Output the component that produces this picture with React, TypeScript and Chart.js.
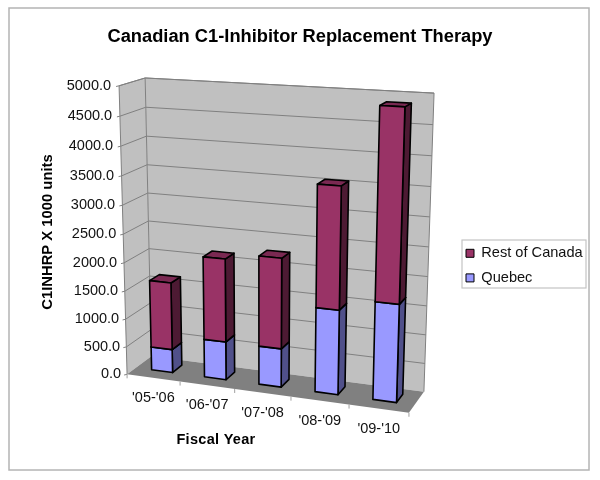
import React, { useEffect, useRef } from "react";
import { Chart, registerables } from "chart.js";

Chart.register(...registerables);

const titleText = "Canadian C1-Inhibitor Replacement Therapy";
const xTitle = "Fiscal Year";
const yTitle = "C1INHRP X 1000 units";
const categories = ["'05-'06", "'06-'07", "'07-'08", "'08-'09", "'09-'10"];
const quebec = [420, 680, 680, 1470, 1680];
const restOfCanada = [1200, 1460, 1570, 2070, 3180];

const FONT = "'Liberation Sans', Arial, sans-serif";

// calibration of the 3D view: [u, v, w, screenX, screenY]
const viewPoints = [
  [0, 0, 0, 128, 373], [0, 1, 0, 118, 86], [0, 0, 1, 150, 357], [0, 1, 1, 146, 78],
  [1, 0, 1, 424, 391], [1, 1, 1, 434, 93], [1, 0, 0, 409, 413],
  [0.2, 0, 0, 180, 382], [0.4, 0, 0, 235, 389], [0.6, 0, 0, 292, 397], [0.8, 0, 0, 348, 405],
  [0, 0.5, 0, 123, 234], [0, 0.5, 1, 149, 221],
];

function solveView(): number[] {
  const n = 11;
  const A: number[][] = Array.from({ length: n }, () => new Array(n + 1).fill(0));
  const add = (row: number[], b: number) => {
    for (let i = 0; i < n; i++) {
      for (let j = 0; j < n; j++) A[i][j] += row[i] * row[j];
      A[i][n] += row[i] * b;
    }
  };
  for (const [u, v, w, X, Y] of viewPoints) {
    add([u, v, w, 1, 0, 0, 0, 0, -X * u, -X * v, -X * w], X);
    add([0, 0, 0, 0, u, v, w, 1, -Y * u, -Y * v, -Y * w], Y);
  }
  for (let c = 0; c < n; c++) {
    let p = c;
    for (let r = c + 1; r < n; r++) if (Math.abs(A[r][c]) > Math.abs(A[p][c])) p = r;
    [A[c], A[p]] = [A[p], A[c]];
    for (let r = 0; r < n; r++) {
      if (r === c) continue;
      const f = A[r][c] / A[c][c];
      for (let k = c; k <= n; k++) A[r][k] -= f * A[c][k];
    }
  }
  return A.map((row, i) => row[n] / row[i]);
}
const M = solveView();
const project = (u: number, v: number, w: number): [number, number] => {
  const d = M[8] * u + M[9] * v + M[10] * w + 1;
  return [
    (M[0] * u + M[1] * v + M[2] * w + M[3]) / d,
    (M[4] * u + M[5] * v + M[6] * w + M[7]) / d,
  ];
};

const BAR_W0 = 0.36;
const BAR_W1 = 0.76;

const faceColors = [
  { front: "#9999FF", side: "#50508A", top: "#7A7ACC" },
  { front: "#993366", side: "#4D1A33", top: "#7A2952" },
];

const poly = (ctx: CanvasRenderingContext2D, pts: [number, number][], fill: string | null, stroke?: string, lw = 1) => {
  ctx.beginPath();
  pts.forEach((p, i) => (i ? ctx.lineTo(p[0], p[1]) : ctx.moveTo(p[0], p[1])));
  ctx.closePath();
  if (fill) { ctx.fillStyle = fill; ctx.fill(); }
  if (stroke) { ctx.strokeStyle = stroke; ctx.lineWidth = lw; ctx.lineJoin = "round"; ctx.stroke(); }
};
const seg = (ctx: CanvasRenderingContext2D, a: [number, number], b: [number, number], color: string, lw = 1) => {
  ctx.beginPath(); ctx.moveTo(a[0], a[1]); ctx.lineTo(b[0], b[1]);
  ctx.strokeStyle = color; ctx.lineWidth = lw; ctx.stroke();
};

const frame3d = {
  id: "frame3d",
  beforeDraw(chart: any) {
    const { ctx } = chart;
    ctx.save();
    ctx.strokeStyle = "#B4B4B4"; ctx.lineWidth = 1.5;
    ctx.strokeRect(9, 8, 580, 462);
    ctx.strokeStyle = "#C4C4C4"; ctx.lineWidth = 1.2;
    ctx.strokeRect(462, 240, 124, 48);
    ctx.restore();
    const lg = chart.legend;
    lg.left = 456; lg.top = 236; lg.right = 590; lg.bottom = 400;
  },
  beforeDatasetsDraw(chart: any) {
    const { ctx, chartArea: a, scales } = chart;
    const ys = scales.y, xs = scales.x;
    const toU = (px: number) => (px - a.left) / a.width;
    const toV = (py: number) => (a.bottom - py) / a.height;
    ctx.save();
    // walls and floor
    poly(ctx, [project(0, 0, 0), project(0, 1, 0), project(0, 1, 1), project(0, 0, 1)], "#C0C0C0");
    poly(ctx, [project(0, 0, 1), project(0, 1, 1), project(1, 1, 1), project(1, 0, 1)], "#C0C0C0");
    poly(ctx, [project(0, 0, 0), project(0, 0, 1), project(1, 0, 1), project(1, 0, 0)], "#808080");
    // grid lines and value axis
    ctx.fillStyle = "#111"; ctx.font = `14.5px ${FONT}`; ctx.textBaseline = "middle"; ctx.textAlign = "right";
    ys.ticks.forEach((t: any) => {
      const v = toV(ys.getPixelForValue(t.value));
      if (v > 0.001) {
        seg(ctx, project(0, v, 0), project(0, v, 1), "#808080");
        seg(ctx, project(0, v, 1), project(1, v, 1), "#808080");
      }
      const p = project(0, v, 0);
      seg(ctx, [p[0] - 3, p[1] + 0.7], p, "#808080");
      ctx.fillStyle = "#111";
      ctx.fillText(Number(t.value).toFixed(1), p[0] - 6 - 2 * v, p[1]);
    });
    // wall edges
    seg(ctx, project(0, 0, 0), project(0, 1, 0), "#808080");
    seg(ctx, project(0, 1, 0), project(0, 1, 1), "#808080");
    seg(ctx, project(0, 1, 1), project(1, 1, 1), "#808080");
    seg(ctx, project(1, 1, 1), project(1, 0, 1), "#808080");
    seg(ctx, project(0, 1, 1), project(0, 0, 1), "#808080");
    // category axis
    ctx.textAlign = "center";
    const labels: string[] = xs.getLabels();
    for (let k = 0; k <= labels.length; k++) {
      const p = project(k / labels.length, 0, 0);
      seg(ctx, p, [p[0], p[1] + 4], "#A0A0A0");
    }
    labels.forEach((l, i) => {
      const p = project(toU(xs.getPixelForValue(i)), 0, 0);
      ctx.fillStyle = "#111";
      ctx.fillText(l, p[0], p[1] + 20);
    });
    // bars, one stack at a time
    const metas = [chart.getDatasetMeta(0), chart.getDatasetMeta(1)];
    labels.forEach((_, i) => {
      metas.forEach((m, d) => {
        const b = m.data[i].getProps(["x", "y", "base", "width"], true);
        const u0 = toU(b.x - b.width / 2), u1 = toU(b.x + b.width / 2);
        const v0 = toV(b.base), v1 = toV(b.y);
        const c = faceColors[d];
        poly(ctx, [project(u1, v0, BAR_W0), project(u1, v1, BAR_W0), project(u1, v1, BAR_W1), project(u1, v0, BAR_W1)], c.side, "#000", 1.6);
        poly(ctx, [project(u0, v1, BAR_W0), project(u0, v1, BAR_W1), project(u1, v1, BAR_W1), project(u1, v1, BAR_W0)], c.top, "#000", 1.6);
        poly(ctx, [project(u0, v0, BAR_W0), project(u0, v1, BAR_W0), project(u1, v1, BAR_W0), project(u1, v0, BAR_W0)], c.front, "#000", 1.6);
      });
    });
    // axis titles
    ctx.fillStyle = "#000"; ctx.font = `bold 14.5px ${FONT}`; ctx.textAlign = "center";
    (ctx as any).letterSpacing = "0.3px";
    ctx.fillText(xTitle, 216, 440);
    ctx.translate(48, 232); ctx.rotate(-Math.PI / 2);
    (ctx as any).letterSpacing = "0px";
    ctx.font = `bold 14.8px ${FONT}`;
    ctx.fillText(yTitle, 0, 0);
    ctx.restore();
    return false;
  },
};

export default function App() {
  const ref = useRef<HTMLCanvasElement>(null);
  useEffect(() => {
    const chart = new Chart(ref.current!, {
      type: "bar",
      data: {
        labels: categories,
        datasets: [
          { label: "Quebec", data: quebec, backgroundColor: "#9999FF", borderColor: "#000", borderWidth: 1, barPercentage: 0.4, categoryPercentage: 1 },
          { label: "Rest of Canada", data: restOfCanada, backgroundColor: "#993366", borderColor: "#000", borderWidth: 1, barPercentage: 0.4, categoryPercentage: 1 },
        ],
      },
      options: {
        responsive: false,
        animation: false,
        layout: { padding: { left: 0, right: 0, top: 0, bottom: 60 } },
        scales: {
          x: { stacked: true, display: false },
          y: { stacked: true, display: false, min: 0, max: 5000, ticks: { stepSize: 500 } },
        },
        plugins: {
          tooltip: { enabled: false },
          title: {
            display: true,
            text: titleText,
            color: "#000",
            font: { family: FONT, size: 18.3, weight: "bold" },
            padding: { top: 26, bottom: 10 },
          },
          legend: {
            position: "right",
            align: "start",
            reverse: true,
            labels: {
              color: "#111",
              boxWidth: 8,
              boxHeight: 8,
              padding: 10,
              font: { family: FONT, size: 14.6 },
            },
          },
        },
      },
      plugins: [frame3d],
    } as any);
    return () => chart.destroy();
  }, []);
  return (
    <div style={{ position: "fixed", left: 0, top: 0, width: 600, height: 480 }}>
      <canvas ref={ref} width={600} height={480} style={{ display: "block" }} />
    </div>
  );
}
